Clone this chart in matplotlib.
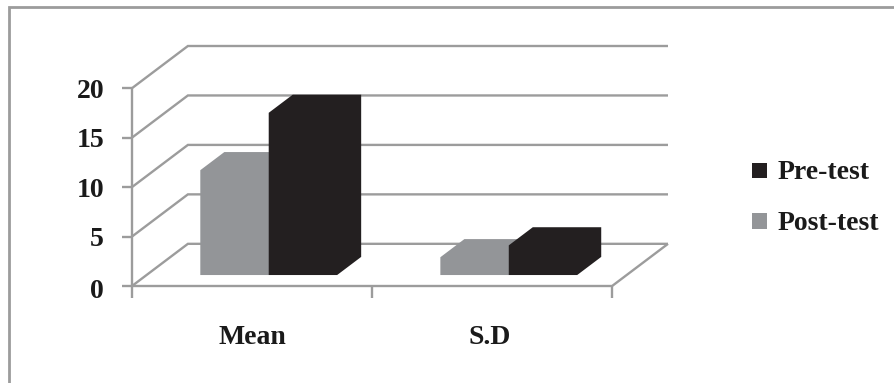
import matplotlib.pyplot as plt
from matplotlib.lines import Line2D
from matplotlib.patches import Polygon, Rectangle

categories = ["Mean", "S.D"]
pre_test = [16.4, 3.0]
post_test = [10.6, 1.8]
y_ticks = [0, 5, 10, 15, 20]

GRID = "#9c9c9c"
DARK = "#231f20"
LIGHT = "#939598"
TEXT = "#1a1a1a"

W, H = 894, 383
# pixel box of the plot: front left corner, front right corner, top of the back wall
LEFT, RIGHT, BOTTOM, TOP = 132, 668, 286, 46

plt.rcParams["font.family"] = ["Liberation Serif", "DejaVu Serif"]

fig = plt.figure(figsize=(W / 100, H / 100), dpi=100)
fig.patch.set_facecolor("white")

# frame: only the left and top edges show
fig.add_artist(Line2D([8.7 / W, 8.7 / W, 1], [0, 1 - 7 / H, 1 - 7 / H], transform=fig.transFigure,
                      color=GRID, lw=2, solid_joinstyle="miter", solid_capstyle="butt"))

ax = fig.add_axes([LEFT / W, 1 - BOTTOM / H, (RIGHT - LEFT) / W, (BOTTOM - TOP) / H])
ax.axis("off")

# one category is 240.5 px wide, one value unit is 9.85 px tall
depth_x = 56 / 240.5
depth_y = 42 / 9.85
ax.set_xlim(0, 2 + depth_x)
ax.set_ylim(0, 20 + depth_y)


def project(x, v, d):
    # d runs from 0 at the front of the floor to 1 at the back wall
    return x + d * depth_x, v + d * depth_y


def line(points):
    xs = [p[0] for p in points]
    ys = [p[1] for p in points]
    ax.plot(xs, ys, color=GRID, lw=1.7, solid_capstyle="butt", solid_joinstyle="miter", clip_on=False)


# walls and floor
for v in y_ticks:
    line([project(0, v, 0), project(0, v, 1), project(2, v, 1)])
    line([(-0.042, v), (0, v)])
    # the zero sits a little lower than the others
    ax.text(-0.116, v - (0.6 if v == 0 else 0.3), str(v), ha="right", va="center",
            fontsize=20, fontweight="bold", color=TEXT)
line([project(0, 0, 0), project(0, 20, 0)])
line([project(0, 0, 0), project(2, 0, 0), project(2, 0, 1)])
for x in range(3):
    line([(x, 0), (x, -1.2)])


def bar3d(x0, x1, value, color, zorder):
    d0, d1 = 0.26, 0.69
    # front face, top and side drawn in one colour
    outline = [
        project(x0, 0, d0),
        project(x0, value, d0),
        project(x0, value, d1),
        project(x1, value, d1),
        project(x1, 0, d1),
        project(x1, 0, d0),
    ]
    ax.add_patch(Polygon(outline, closed=True, fc=color, ec="none", zorder=zorder, clip_on=False))


bar_w = 0.285
label_x = [0.5, 1.49]
for i, name in enumerate(categories):
    center = i + 0.509
    bar3d(center - bar_w, center, post_test[i], LIGHT, 3)
    bar3d(center, center + bar_w, pre_test[i], DARK, 4)
    ax.text(label_x[i], -5.25, name, ha="center", va="center", fontsize=20, fontweight="bold", color=TEXT)

# legend
for name, color, y in [("Pre-test", DARK, 170.5), ("Post-test", LIGHT, 220.5)]:
    fig.add_artist(Rectangle((752 / W, 1 - (y + 8) / H), 15 / W, 15.5 / H, transform=fig.transFigure,
                             fc=color, ec="none"))
    fig.text(778 / W, 1 - (y + 2.5) / H, name, ha="left", va="center", fontsize=20, fontweight="bold", color=TEXT)

fig.savefig("out.png", dpi=100)
